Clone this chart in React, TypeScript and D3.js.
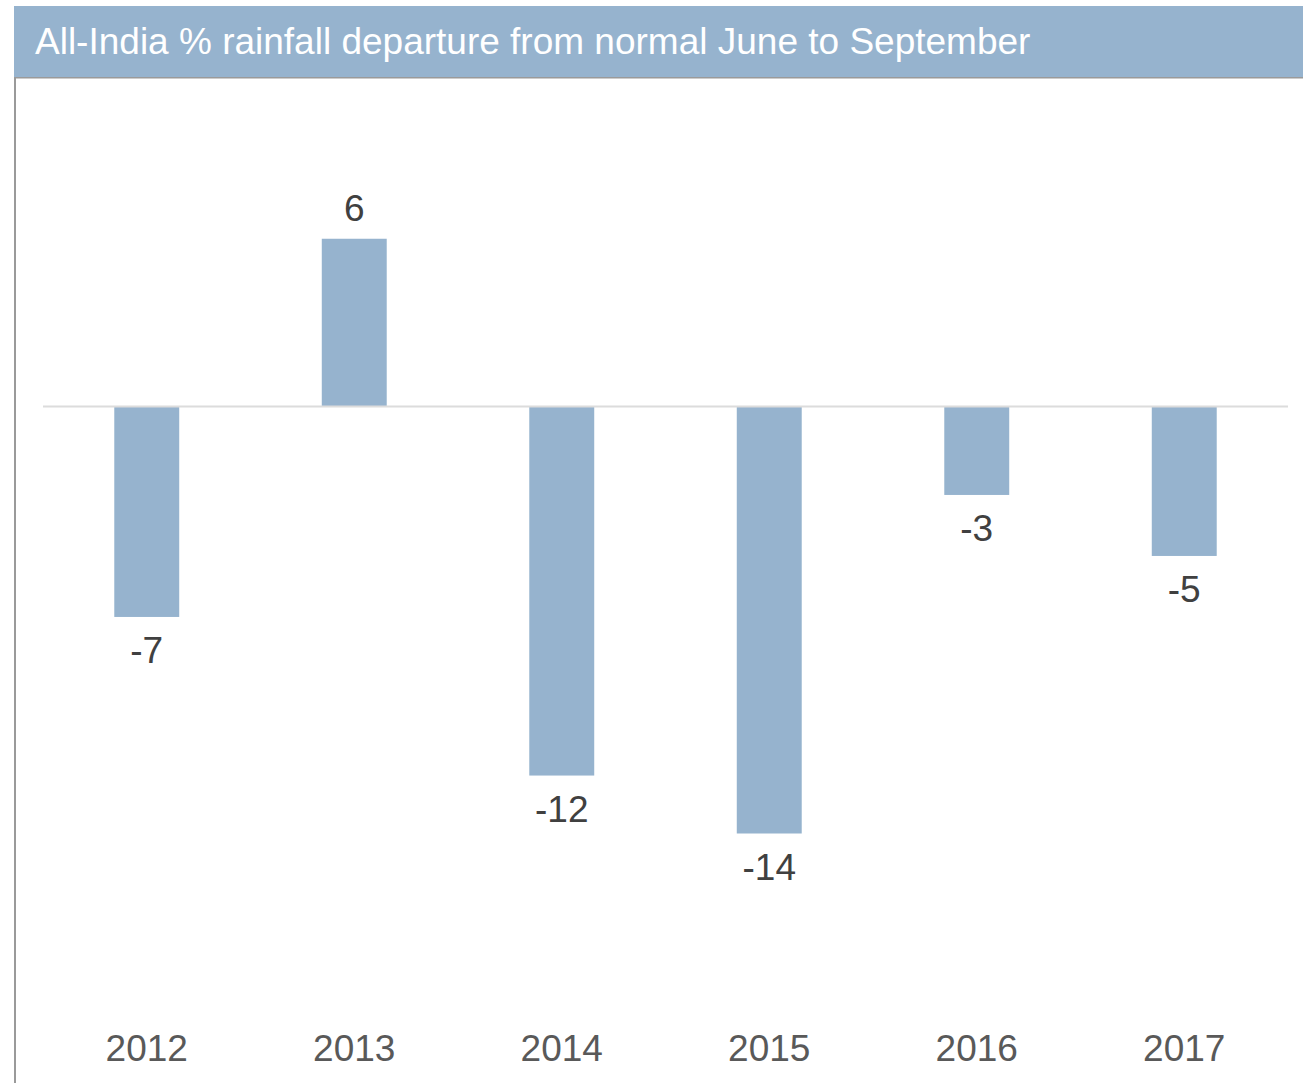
import React, { useRef, useEffect } from "react";
import * as d3 from "d3";

const title = "All-India % rainfall departure from normal June to September";
const years = ["2012", "2013", "2014", "2015", "2016", "2017"];
const departure = [-6.9, 5.5, -12.1, -14.0, -2.9, -4.9];
const labels = ["-7", "6", "-12", "-14", "-3", "-5"];

const W = 1303;
const H = 1083;
const FONT = "Arial, 'Liberation Sans', sans-serif";

function App() {
  const svgRef = useRef<SVGSVGElement | null>(null);

  useEffect(() => {
    const svg = d3.select(svgRef.current);
    svg.selectAll("*").remove();

    const x = d3
      .scaleBand()
      .domain(years)
      .range([43, 1288])
      .paddingInner(0.687)
      .paddingOuter(0.3435);
    const y = d3.scaleLinear().domain([-20, 10]).range([1016.5, 101.5]);

    // frame: left + top border of the plot box
    svg
      .append("path")
      .attr("d", `M15,${H} L15,77.5 L${W},77.5`)
      .attr("fill", "none")
      .attr("stroke", "#9a9a9a")
      .attr("stroke-width", 2);

    // title bar
    svg
      .append("rect")
      .attr("x", 14)
      .attr("y", 6)
      .attr("width", W - 14)
      .attr("height", 71)
      .attr("fill", "#96b3ce");
    svg
      .append("text")
      .attr("x", 35)
      .attr("y", 54)
      .attr("fill", "#ffffff")
      .style("font-family", FONT)
      .style("font-size", "37px")
      .text(title);

    // bars
    svg
      .selectAll(".bar")
      .data(departure)
      .join("rect")
      .attr("class", "bar")
      .attr("x", (d, i) => x(years[i])!)
      .attr("y", d => y(Math.max(0, d)))
      .attr("width", x.bandwidth())
      .attr("height", d => Math.abs(y(d) - y(0)))
      .attr("fill", "#96b3ce");

    // zero line
    svg
      .append("line")
      .attr("x1", 43)
      .attr("x2", 1288)
      .attr("y1", y(0))
      .attr("y2", y(0))
      .attr("stroke", "#dcdcdc")
      .attr("stroke-width", 2);

    // value labels
    svg
      .selectAll(".val")
      .data(departure)
      .join("text")
      .attr("class", "val")
      .attr("x", (d, i) => x(years[i])! + x.bandwidth() / 2)
      .attr("y", d => (d >= 0 ? y(d) - 18 : y(d) + 46))
      .attr("text-anchor", "middle")
      .attr("fill", "#404040")
      .style("font-family", FONT)
      .style("font-size", "37px")
      .text((d, i) => labels[i]);

    // category axis labels
    svg
      .selectAll(".yr")
      .data(years)
      .join("text")
      .attr("class", "yr")
      .attr("x", d => x(d)! + x.bandwidth() / 2)
      .attr("y", 1061)
      .attr("text-anchor", "middle")
      .attr("fill", "#595959")
      .style("font-family", FONT)
      .style("font-size", "37px")
      .text(d => d);
  }, []);

  return (
    <svg
      ref={svgRef}
      width={W}
      height={H}
      style={{ position: "absolute", left: 0, top: 0, background: "#ffffff" }}
    />
  );
}

export default App;
